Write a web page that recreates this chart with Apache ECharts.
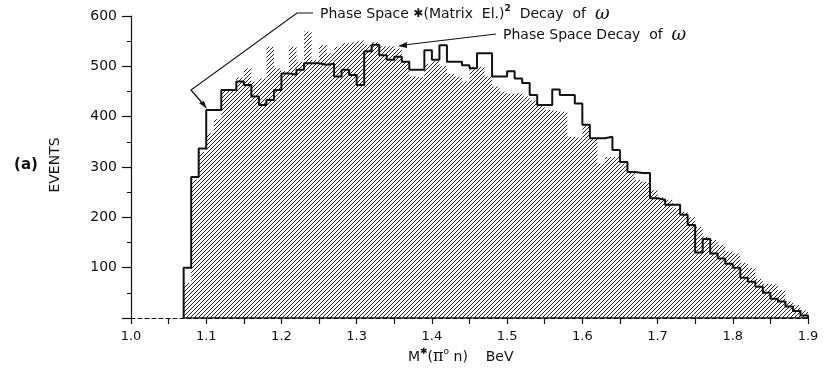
<!DOCTYPE html>
<html>
<head>
<meta charset="utf-8">
<script src="https://cdn.jsdelivr.net/npm/echarts@6/dist/echarts.min.js"></script>
<style>
html,body{margin:0;padding:0;background:#fff;}
#chart{width:824px;height:383px;}
</style>
</head>
<body>
<div id="chart"></div>
<script>
// Bin left edges (BeV), bin width 0.01
const binStarts = [1.07,1.08,1.09,1.10,1.11,1.12,1.13,1.14,1.15,1.16,1.17,1.18,1.19,1.20,1.21,1.22,1.23,1.24,1.25,1.26,1.27,1.28,1.29,1.30,1.31,1.32,1.33,1.34,1.35,1.36,1.37,1.38,1.39,1.40,1.41,1.42,1.43,1.44,1.45,1.46,1.47,1.48,1.49,1.50,1.51,1.52,1.53,1.54,1.55,1.56,1.57,1.58,1.59,1.60,1.61,1.62,1.63,1.64,1.65,1.66,1.67,1.68,1.69,1.70,1.71,1.72,1.73,1.74,1.75,1.76,1.77,1.78,1.79,1.80,1.81,1.82,1.83,1.84,1.85,1.86,1.87,1.88,1.89];
const lastEdge = 1.90;
// Observed events (hatched histogram)
const dataEvents = [70,275,330,367,395,453,453,478,496,470,476,539,496,490,539,509,569,513,543,526,539,546,549,552,543,548,540,540,535,510,480,478,505,510,500,485,480,470,499,499,480,460,450,445,448,440,432,423,413,410,410,360,357,384,357,307,320,320,307,291,274,270,254,240,235,218,211,200,181,162,155,145,132,128,110,100,78,68,66,55,33,26,15];
// Phase space curve (thick step line)
const phaseSpace = [100,280,337,413,413,453,453,470,463,440,423,433,453,486,483,493,506,506,503,505,480,493,483,463,530,543,522,513,519,509,493,493,532,513,542,509,509,502,496,526,526,480,480,490,476,467,443,423,423,454,443,443,426,384,357,357,360,334,310,290,288,288,238,235,225,225,205,185,130,157,128,118,108,100,80,72,62,50,38,33,23,14,5];
const xMin = 1.0, xMax = 1.9, yMin = 0, yMax = 600;

function stepPts(vals){
  const pts = [[binStarts[0], 0]];
  for (let i = 0; i < binStarts.length; i++) pts.push([binStarts[i], vals[i]]);
  pts.push([lastEdge, vals[vals.length-1]]);
  pts.push([lastEdge, 0]);
  return pts;
}

function hatch(){
  const s = 4;
  const c = document.createElement('canvas');
  c.width = s; c.height = s;
  const g = c.getContext('2d');
  g.strokeStyle = '#222';
  g.lineWidth = 1.0;
  g.beginPath();
  g.moveTo(-1, s+1); g.lineTo(s+1, -1);
  g.moveTo(-1, 1); g.lineTo(1, -1);
  g.moveTo(s-1, s+1); g.lineTo(s+1, s-1);
  g.stroke();
  return c;
}

const chart = echarts.init(document.getElementById('chart'), null, {renderer:'canvas'});
const ink = '#111';
const font = 'DejaVu Sans';
const option = {
  animation: false,
  backgroundColor: '#fff',
  grid: {left:131, right:16, top:16, bottom:65},
  xAxis: {
    type:'value', min:xMin, max:xMax, interval:0.05,
    axisLine:{lineStyle:{color:ink, width:1.2, type:[4,3]}},
    axisTick:{length:6, lineStyle:{color:ink, width:1.2}},
    axisLabel:{margin:12, fontSize:13, color:ink, fontFamily:font,
      formatter: v => (Math.round(v*20) % 2 === 0) ? v.toFixed(1) : ''},
    splitLine:{show:false}
  },
  yAxis: {
    type:'value', min:yMin, max:yMax, interval:100,
    axisLine:{show:true, lineStyle:{color:ink, width:1.2}},
    axisTick:{show:true, length:9, lineStyle:{color:ink, width:1.2}},
    minorTick:{show:true, splitNumber:2, length:4, lineStyle:{color:ink, width:1}},
    axisLabel:{margin:14, fontSize:14, color:ink, fontFamily:font,
      formatter: v => v === 0 ? '' : String(v)},
    splitLine:{show:false}
  },
  series: [
    {type:'line', step:'end', data:stepPts(dataEvents), symbol:'none', z:2,
     lineStyle:{width:0, opacity:0},
     areaStyle:{color:{image:hatch(), repeat:'repeat'}, opacity:1}},
    {type:'line', data:[[binStarts[0],0],[lastEdge,0]], symbol:'none', z:3,
     lineStyle:{color:ink, width:1.3}},
    {type:'line', step:'end', data:stepPts(phaseSpace), symbol:'none', z:4,
     lineStyle:{color:ink, width:2}}
  ],
  graphic: [
    {type:'text', x:320, y:14, style:{
      text:'Phase Space {s|✱}(Matrix  El.){sup|2}  Decay  of  {w|ω}',
      fontFamily:font, fontSize:14, fill:ink, verticalAlign:'middle',
      rich:{ s:{fontSize:12, fontFamily:font, fill:ink},
             sup:{fontSize:9, fontWeight:'bold', fontFamily:font, fill:ink, verticalAlign:'bottom', padding:[0,0,10,0]},
             w:{fontSize:18, fontStyle:'italic', fontFamily:'DejaVu Serif', fill:ink} }
    }},
    {type:'polyline', shape:{points:[[313,13],[297,13],[191,90],[204,105]]}, style:{stroke:ink, lineWidth:1.2, fill:null}},
    {type:'polygon', shape:{points:[[207,109],[199,103],[204,101]]}, style:{fill:ink}},
    {type:'text', x:503, y:35, style:{
      text:'Phase Space Decay  of  {w|ω}',
      fontFamily:font, fontSize:14, fill:ink, verticalAlign:'middle',
      rich:{ w:{fontSize:18, fontStyle:'italic', fontFamily:'DejaVu Serif', fill:ink} }
    }},
    {type:'polyline', shape:{points:[[496,34],[404,45]]}, style:{stroke:ink, lineWidth:1.2, fill:null}},
    {type:'polygon', shape:{points:[[398,46],[407,42],[407,48]]}, style:{fill:ink}},
    {type:'text', x:26, y:165, style:{text:'(a)', fontFamily:font, fontSize:15, fontWeight:'bold', fill:ink, align:'center', verticalAlign:'middle'}},
    {type:'text', x:55, y:165, rotation:Math.PI/2, style:{text:'EVENTS', fontFamily:font, fontSize:14, fill:ink, align:'center', verticalAlign:'middle'}},
    {type:'text', x:408, y:357, style:{
      text:'M{sup|✱}({pi|π}{sup|o} n)    BeV',
      fontFamily:font, fontSize:14, fill:ink, verticalAlign:'middle',
      rich:{ sup:{fontSize:9, fontFamily:font, fill:ink, verticalAlign:'bottom', padding:[0,0,10,0]},
             pi:{fontSize:16, fontFamily:'DejaVu Serif', fill:ink} }
    }}
  ]
};
chart.setOption(option);
</script>
</body>
</html>
